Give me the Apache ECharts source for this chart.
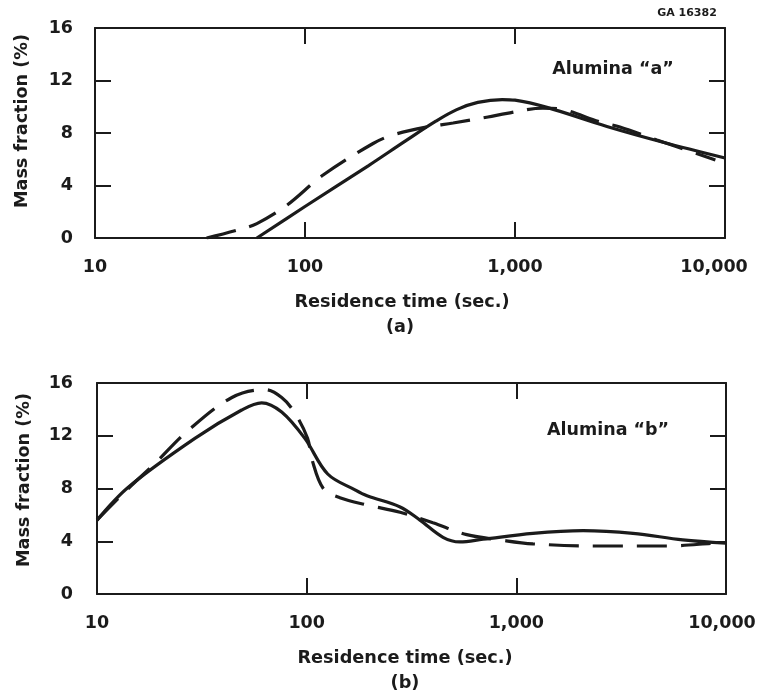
<!DOCTYPE html>
<html>
<head>
<meta charset="utf-8">
<script src="https://cdn.jsdelivr.net/npm/echarts@6/dist/echarts.min.js"></script>
<style>
  html, body { margin: 0; padding: 0; background: #ffffff; }
  #chart { width: 759px; height: 699px; }
</style>
</head>
<body>
<div id="chart"></div>
<script>
// ---- Data ----
// Panel (a): Alumina "a"
const topSolidT = [59, 100, 200, 300, 420, 528, 665, 869, 1000, 1419, 2740, 5070, 10000];
const topSolidV = [0, 2.4, 5.5, 7.38, 8.9, 9.78, 10.33, 10.55, 10.5, 9.95, 8.5, 7.3, 6.1];
const topDashT = [34, 47.5, 59, 82, 122, 211, 262, 381, 507, 744, 916, 1358, 1600, 2540, 3160, 4740, 9000];
const topDashV = [0, 0.6, 1.1, 2.5, 4.8, 7.2, 7.85, 8.46, 8.76, 9.22, 9.5, 9.9, 9.85, 8.84, 8.46, 7.47, 5.95];
// Panel (b): Alumina "b"
const botSolidT = [10, 14.1, 29.3, 49, 61, 76, 98, 126, 170, 194, 279, 347, 447, 538, 693, 1200, 2080, 3600, 6220, 10000];
const botSolidV = [5.6, 8.1, 11.8, 13.95, 14.5, 13.8, 11.8, 9.1, 7.9, 7.45, 6.6, 5.6, 4.3, 3.95, 4.15, 4.6, 4.8, 4.6, 4.1, 3.85];
const botDashT = [10, 14.1, 18.9, 27.2, 44, 63, 76, 88, 101, 106, 120, 144, 194, 279, 400, 580, 835, 1200, 2500, 5230, 9060, 10000];
const botDashV = [5.6, 8.0, 9.9, 12.4, 14.9, 15.5, 14.9, 13.7, 11.8, 10.2, 8.0, 7.3, 6.75, 6.2, 5.4, 4.5, 4.1, 3.8, 3.64, 3.64, 3.87, 3.9];

const xTicks = [10, 100, 1000, 10000];
const yTicks = [0, 4, 8, 12, 16];
const panelLabels = ['(a)', '(b)'];
const panelNames = ['Alumina \u201ca\u201d', 'Alumina \u201cb\u201d'];
const xTitle = 'Residence time (sec.)';
const yTitle = 'Mass fraction (%)';
const figId = 'GA 16382';

// ---- Styling ----
const INK = '#1b1b1b';
const FONT = '"DejaVu Sans", sans-serif';
const pairs = (t, v) => t.map((x, i) => [x, v[i]]);

function xAx(grid, pos, showLabels, lastPad) {
  return {
    type: 'log', logBase: 10, gridIndex: grid, position: pos,
    min: xTicks[0], max: xTicks[xTicks.length - 1],
    axisLine: { show: true, onZero: false, lineStyle: { color: INK, width: 2 } },
    axisTick: { show: true, inside: true, length: 16, lineStyle: { color: INK, width: 2 } },
    splitLine: { show: false }, minorTick: { show: false },
    axisLabel: {
      show: showLabels, margin: 20, color: INK, fontFamily: FONT, fontWeight: 'bold', fontSize: 17.5,
      formatter: function (v) {
        const s = Math.round(v).toLocaleString('en-US');
        return Math.round(v) === xTicks[xTicks.length - 1] ? '{last|' + s + '}' : s;
      },
      rich: { last: { fontFamily: FONT, fontWeight: 'bold', fontSize: 17.5, color: INK, padding: [0, lastPad, 0, 0] } }
    }
  };
}
function yAx(grid, pos, showLabels, margin) {
  return {
    type: 'value', gridIndex: grid, position: pos,
    min: yTicks[0], max: yTicks[yTicks.length - 1], interval: 4,
    axisLine: { show: true, lineStyle: { color: INK, width: 2 } },
    axisTick: { show: true, inside: true, length: 16, lineStyle: { color: INK, width: 2 } },
    splitLine: { show: false },
    axisLabel: { show: showLabels, margin: margin, color: INK, fontFamily: FONT, fontWeight: 'bold', fontSize: 17.5 }
  };
}
function lineSeries(data, xi, yi, dashed) {
  return {
    type: 'line', xAxisIndex: xi, yAxisIndex: yi, data: data,
    smooth: 0.35, showSymbol: false, symbol: 'none', silent: true,
    lineStyle: { color: INK, width: 3.2, type: dashed ? [30, 14] : 'solid', cap: 'butt' }
  };
}
function txt(x, y, s, size, rot) {
  return {
    type: 'text', x: x, y: y, rotation: rot || 0, silent: true,
    style: { text: s, fill: INK, font: 'bold ' + size + 'px ' + FONT, align: 'center', verticalAlign: 'middle' }
  };
}

const chart = echarts.init(document.getElementById('chart'), null, { renderer: 'canvas' });
chart.setOption({
  backgroundColor: '#ffffff',
  animation: false,
  grid: [
    { left: 95, top: 28, width: 630, height: 210, containLabel: false },
    { left: 97, top: 383, width: 629, height: 211, containLabel: false }
  ],
  xAxis: [
    xAx(0, 'bottom', true, 22), xAx(0, 'top', false, 0),
    xAx(1, 'bottom', true, 8), xAx(1, 'top', false, 0)
  ],
  yAxis: [
    yAx(0, 'left', true, 22), yAx(0, 'right', false, 0),
    yAx(1, 'left', true, 24), yAx(1, 'right', false, 0)
  ],
  series: [
    lineSeries(pairs(topSolidT, topSolidV), 0, 0, false),
    lineSeries(pairs(topDashT, topDashV), 0, 0, true),
    lineSeries(pairs(botSolidT, botSolidV), 2, 2, false),
    lineSeries(pairs(botDashT, botDashV), 2, 2, true)
  ],
  graphic: [
    txt(687, 13, figId, 11),
    txt(613, 69, panelNames[0], 17.5),
    txt(608, 430, panelNames[1], 17.5),
    txt(22, 121, yTitle, 17.6, Math.PI / 2),
    txt(24, 480, yTitle, 17.6, Math.PI / 2),
    txt(402, 302, xTitle, 17.7),
    txt(400, 327, panelLabels[0], 17.7),
    txt(405, 658, xTitle, 17.7),
    txt(405, 683, panelLabels[1], 17.7)
  ]
});
</script>
</body>
</html>
